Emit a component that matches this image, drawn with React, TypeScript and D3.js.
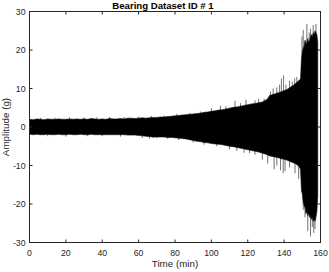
import React from "react";
import * as d3 from "d3";

const W = 329;
const H = 272;

// Envelope of the vibration signal (minutes, g)
const times = [
  0, 2, 4, 6, 8, 10, 12, 14, 16, 18, 20, 22, 24, 26, 28, 30, 32, 34, 36, 38, 40,
  42, 44, 46, 48, 50, 52, 54, 56, 58, 60, 62, 64, 66, 68, 70, 72, 74, 76, 78, 80,
  82, 84, 86, 88, 90, 92, 94, 96, 98, 100, 102, 104, 106, 108, 110, 112, 114, 116,
  118, 120, 122, 124, 126, 128, 130, 131, 132, 133, 134, 135, 136, 137, 138, 139,
  140, 141, 142, 143, 144, 145, 146, 147, 148, 149, 149.5, 150, 150.5, 151, 151.5,
  152, 152.5, 153, 153.5, 154, 154.5, 155, 155.5, 156, 156.5, 157, 157.5, 158, 158.5,
];
const upper = [
  2.0, 1.9, 2.1, 2.0, 1.9, 2.1, 2.0, 2.0, 2.1, 2.0, 2.0, 2.1, 2.0, 2.1, 2.0, 2.1, 2.0, 2.2, 2.1, 2.0, 2.1,
  2.0, 2.2, 2.1, 2.1, 2.2, 2.1, 2.3, 2.3, 2.2, 2.3, 2.4, 2.3, 2.4, 2.5, 2.5, 2.6, 2.6, 2.7, 2.8, 2.9,
  3.0, 3.1, 3.2, 3.3, 3.4, 3.5, 3.6, 3.8, 3.9, 4.1, 4.2, 4.4, 4.5, 4.7, 4.9, 5.1, 5.2, 5.4,
  5.6, 5.8, 6.0, 6.1, 6.3, 6.5, 7.0, 7.4, 8.2, 8.3, 8.5, 8.6, 8.8, 8.9, 9.1, 9.3,
  9.5, 9.6, 9.9, 10.2, 10.5, 10.8, 11.2, 11.6, 12.0, 12.5, 17.5, 19.5, 20.5, 21.0, 22.5,
  21.5, 22.0, 23.0, 22.0, 22.5, 23.5, 24.0, 23.5, 24.5, 24.0, 25.0, 24.5, 24.0, 22.0,
];
const lower = [
  -1.9, -2.0, -1.9, -2.0, -2.0, -1.9, -2.0, -2.0, -1.9, -2.0, -2.0, -1.9, -2.0, -2.0, -1.9, -2.0, -2.0, -1.9, -2.0, -2.0, -2.0,
  -2.0, -2.0, -2.0, -2.0, -2.0, -2.0, -2.1, -2.1, -2.1, -2.2, -2.3, -2.4, -2.5, -2.6, -2.6, -2.6, -2.6, -2.7, -2.7, -2.8,
  -2.9, -3.0, -3.1, -3.3, -3.5, -3.7, -3.8, -4.0, -4.1, -4.3, -4.4, -4.5, -4.6, -4.8, -5.0, -5.1, -5.3, -5.5,
  -5.7, -5.9, -6.1, -6.3, -6.5, -6.8, -7.1, -7.3, -7.5, -7.6, -7.7, -7.8, -7.9, -8.0, -8.2, -8.3,
  -8.4, -8.5, -8.7, -8.9, -9.1, -9.3, -9.5, -9.8, -10.1, -11.0, -15.5, -17.5, -19.5, -20.5, -21.0,
  -22.5, -22.0, -23.0, -22.5, -23.5, -23.0, -24.0, -23.5, -24.5, -24.0, -24.5, -23.5, -22.0, -18.0,
];

// Individual peaks sticking out of the envelope
const peakTimes = [
  6, 14, 22, 30, 37, 44, 52, 60, 67, 74, 81, 88, 94, 100, 105, 108, 113, 116, 119, 124, 126, 129,
  132.5, 134, 136, 137.5, 138.5, 139.7, 141, 143, 144.5, 145.8, 147,
  149.8, 150.5, 151.5, 152.5, 153.8, 154.5, 156, 157.5,
];
const peakValues = [
  2.4, 2.4, 2.5, 2.5, 2.5, 2.6, 2.6, 2.7, 2.9, 3.0, 3.4, 3.6, 4.0, 4.9, 5.5, 5.4, 6.8, 6.2, 7.1, 6.9, 7.3, 7.4,
  9.2, 10.0, 10.3, 11.0, 12.6, 13.4, 11.0, 12.0, 11.8, 12.6, 13.0,
  23.5, 25.2, 22.5, 26.8, 24.5, 25.5, 26.5, 26.8,
];
const dipTimes = [
  10, 20, 32, 40, 50, 62, 66, 68, 70, 76, 82, 90, 96, 103, 110, 114, 118, 121, 124, 128, 131,
  134.5, 136, 138, 139.5, 140.5, 143, 146, 148, 149.5,
  150.5, 151.5, 153, 154.5, 155.5, 156.3, 157,
];
const dipValues = [
  -2.4, -2.5, -2.4, -2.4, -2.5, -2.8, -3.0, -2.9, -2.9, -3.1, -3.4, -4.0, -4.6, -5.0, -5.8, -6.2, -6.7, -6.8, -7.2, -8.5, -9.5,
  -11.0, -10.0, -11.2, -12.0, -11.5, -10.5, -12.0, -13.5, -17.0,
  -21.5, -23.5, -27.0, -28.4, -26.0, -27.5, -26.5,
];

const xTicks = [0, 20, 40, 60, 80, 100, 120, 140, 160];
const yTicks = [-30, -20, -10, 0, 10, 20, 30];

const title = "Bearing Dataset ID # 1";
const xLabel = "Time (min)";
const yLabel = "Amplitude (g)";

export default function App() {
  const left = 29.5;
  const right = 320.5;
  const top = 11.5;
  const bottom = 242.5;
  const x = d3.scaleLinear().domain([0, 160]).range([left, right]);
  const y = d3.scaleLinear().domain([-30, 30]).range([bottom, top]);

  const idx = d3.range(times.length);
  const area = d3
    .area<number>()
    .x((i) => x(times[i]))
    .y0((i) => y(lower[i]))
    .y1((i) => y(upper[i]))(idx) as string;

  const font = "'Liberation Sans', Arial, Helvetica, sans-serif";
  const axisColor = "#262626";
  const tickLen = 3;

  return (
    <svg
      width={W}
      height={H}
      style={{ position: "fixed", left: 0, top: 0, background: "#ffffff" }}
      fontFamily={font}
    >
      <rect x={0} y={0} width={W} height={H} fill="#ffffff" />
      {peakTimes.map((t, i) => (
        <line key={"p" + i} x1={x(t)} x2={x(t)} y1={y(0)} y2={y(peakValues[i])} stroke="#333" strokeWidth={0.7} />
      ))}
      {dipTimes.map((t, i) => (
        <line key={"d" + i} x1={x(t)} x2={x(t)} y1={y(0)} y2={y(dipValues[i])} stroke="#333" strokeWidth={0.7} />
      ))}
      <path d={area} fill="#000" stroke="#111" strokeWidth={0.6} />
      <rect
        x={left}
        y={top}
        width={right - left}
        height={bottom - top}
        fill="none"
        stroke={axisColor}
        strokeWidth={1}
      />
      {xTicks.map((t) => (
        <g key={"xt" + t}>
          <line x1={x(t)} x2={x(t)} y1={bottom} y2={bottom - tickLen} stroke={axisColor} />
          <line x1={x(t)} x2={x(t)} y1={top} y2={top + tickLen} stroke={axisColor} />
          <text x={x(t)} y={256} textAnchor="middle" fontSize={8.7} fill="#262626">
            {t}
          </text>
        </g>
      ))}
      {yTicks.map((t) => (
        <g key={"yt" + t}>
          <line x1={left} x2={left + tickLen} y1={y(t)} y2={y(t)} stroke={axisColor} />
          <line x1={right} x2={right - tickLen} y1={y(t)} y2={y(t)} stroke={axisColor} />
          <text x={25.5} y={y(t) + 3.2} textAnchor="end" fontSize={8.7} fill="#262626">
            {t}
          </text>
        </g>
      ))}
      <text x={163} y={8.5} textAnchor="middle" fontSize={9.6} fontWeight="bold" fill="#000">
        {title}
      </text>
      <text x={(left + right) / 2} y={266.5} textAnchor="middle" fontSize={9.8} fill="#262626">
        {xLabel}
      </text>
      <text
        transform={`translate(9,${(top + bottom) / 2}) rotate(-90)`}
        textAnchor="middle"
        fontSize={9.8}
        fill="#262626"
      >
        {yLabel}
      </text>
    </svg>
  );
}
